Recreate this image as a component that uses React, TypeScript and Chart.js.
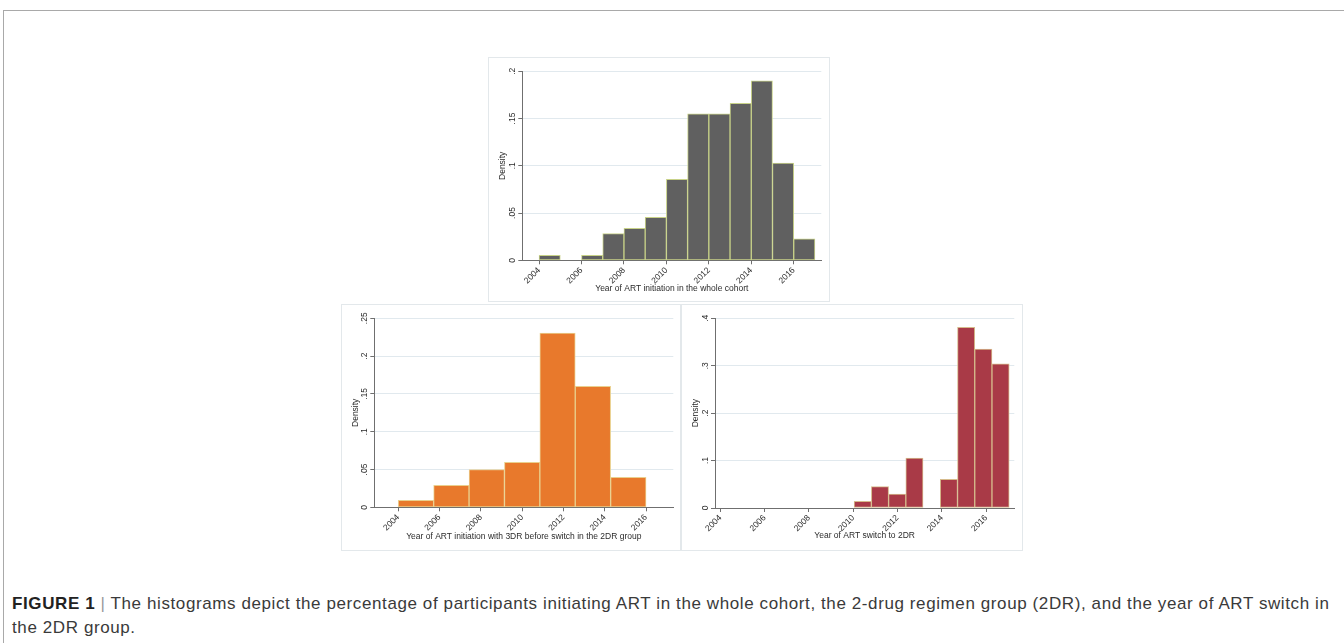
import React, { useEffect, useRef } from "react";
import { Chart, registerables } from "chart.js";

Chart.register(...registerables);

const FONT = "'Liberation Sans', Arial, Helvetica, sans-serif";
const TEXT = "#2b2b2b";
const AXIS = "#6f6f6f";
const GRID = "#e1e9ee";
const PANEL_BORDER = "#e3e8eb";

// shared x tick years
const xTickYears = [2004, 2006, 2008, 2010, 2012, 2014, 2016];

// Panel 1: whole cohort
const wholeEdges = [2004, 2005, 2006, 2007, 2008, 2009, 2010, 2011, 2012, 2013, 2014, 2015, 2016, 2017];
const wholeDensity = [0.0053, 0, 0.0053, 0.0282, 0.0339, 0.0455, 0.0857, 0.1549, 0.1549, 0.166, 0.1898, 0.103, 0.0226];
const wholeYTicks = [0, 0.05, 0.1, 0.15, 0.2];
const wholeYLabels = ["0", ".05", ".1", ".15", ".2"];
const wholeXRange = [2003.21, 2017.3];

// Panel 2: 3DR initiation before switch in 2DR group
const initEdges = [2004, 2005.714, 2007.429, 2009.143, 2010.857, 2012.571, 2014.286, 2016];
const initDensity = [0.0093, 0.0291, 0.0498, 0.0595, 0.2306, 0.16, 0.0397];
const initYTicks = [0, 0.05, 0.1, 0.15, 0.2, 0.25];
const initYLabels = ["0", ".05", ".1", ".15", ".2", ".25"];
const initXRange = [2002.84, 2017.32];

// Panel 3: year of switch to 2DR
const switchEdges = [2010.04, 2010.818, 2011.596, 2012.373, 2013.151, 2013.929, 2014.707, 2015.484, 2016.262, 2017.04];
const switchDensity = [0.014, 0.045, 0.0295, 0.105, 0, 0.0605, 0.381, 0.335, 0.304];
const switchYTicks = [0, 0.1, 0.2, 0.3, 0.4];
const switchYLabels = ["0", ".1", ".2", ".3", ".4"];
const switchXRange = [2003.76, 2017.27];

type Box = {
  left: number; top: number; width: number; height: number;
  yWidth: number; padTop: number; padRight: number; xHeight: number; titlePad: number;
};

type HistProps = {
  edges: number[]; density: number[]; yTicks: number[]; yLabels: string[]; xRange: number[];
  fill: string; stroke: string; xTitle: string; box: Box;
};

const TICK_FONT = { family: FONT, size: 8.5 };

function Histogram(props: HistProps) {
  const ref = useRef<HTMLCanvasElement>(null);
  const { box } = props;
  useEffect(() => {
    const { edges, density, yTicks, yLabels, xRange, fill, stroke, xTitle } = props;
    const data = density.map((d, i) => ({ x: (edges[i] + edges[i + 1]) / 2, y: d > 0 ? d : null }));
    const yLabelPlugin = {
      id: "yRotLabels",
      afterDraw(chart: any) {
        const ctx = chart.ctx;
        const ys = chart.scales.y;
        ctx.save();
        ctx.fillStyle = TEXT;
        ctx.font = `8.5px ${FONT}`;
        ctx.textAlign = "center";
        ctx.textBaseline = "middle";
        yTicks.forEach((v, i) => {
          const py = ys.getPixelForValue(v);
          ctx.save();
          ctx.translate(ys.right - 9.5, py);
          ctx.rotate(-Math.PI / 2);
          ctx.fillText(yLabels[i], 0, 0);
          ctx.restore();
        });
        ctx.restore();
      },
    };
    const chart = new Chart(ref.current as HTMLCanvasElement, {
      type: "bar",
      data: {
        datasets: [
          {
            data: data as any,
            backgroundColor: fill,
            borderColor: stroke,
            borderWidth: 1,
            borderSkipped: false,
            barPercentage: 1,
            categoryPercentage: 1,
          },
        ],
      },
      options: {
        animation: false,
        responsive: false,
        devicePixelRatio: 1,
        layout: {
          autoPadding: false,
          padding: { top: box.padTop, right: box.padRight, left: 0, bottom: 0 },
        } as any,
        plugins: { legend: { display: false }, tooltip: { enabled: false } },
        scales: {
          x: {
            type: "linear",
            offset: false,
            min: xRange[0],
            max: xRange[1],
            afterBuildTicks: (s: any) => {
              s.ticks = xTickYears.map((v) => ({ value: v }));
            },
            afterFit: (s: any) => {
              s.height = box.xHeight;
            },
            grid: {
              display: true,
              drawOnChartArea: false,
              drawTicks: true,
              tickLength: 4,
              tickColor: AXIS,
              offset: false,
            },
            border: { display: true, color: AXIS, width: 1 },
            ticks: {
              minRotation: 45,
              maxRotation: 45,
              autoSkip: false,
              padding: 1,
              color: TEXT,
              font: TICK_FONT,
              callback: (v: any) => String(v),
            },
            title: {
              display: true,
              text: xTitle,
              color: TEXT,
              font: TICK_FONT,
              padding: { top: 0, bottom: box.titlePad },
            },
          },
          y: {
            type: "linear",
            min: 0,
            max: yTicks[yTicks.length - 1],
            afterBuildTicks: (s: any) => {
              s.ticks = yTicks.map((v) => ({ value: v }));
            },
            afterFit: (s: any) => {
              s.width = box.yWidth;
            },
            grid: {
              color: (c: any) => (c.tick && c.tick.value === 0 ? "rgba(0,0,0,0)" : GRID),
              tickColor: AXIS,
              tickLength: 4,
              drawTicks: true,
            },
            border: { display: true, color: AXIS, width: 1 },
            ticks: { display: false },
            title: {
              display: true,
              text: "Density",
              color: TEXT,
              font: TICK_FONT,
              padding: { top: 10, bottom: 0 },
            },
          },
        },
      } as any,
      plugins: [yLabelPlugin],
    });
    return () => chart.destroy();
  }, []);
  return (
    <>
      <canvas
        ref={ref}
        width={box.width}
        height={box.height}
        style={{ position: "absolute", left: box.left, top: box.top, width: box.width, height: box.height, background: "#fff" }}
      />
      <div
        style={{
          position: "absolute",
          left: box.left,
          top: box.top,
          width: box.width,
          height: box.height,
          border: `1px solid ${PANEL_BORDER}`,
          boxSizing: "border-box",
          pointerEvents: "none",
        }}
      />
    </>
  );
}

export default function App() {
  return (
    <div
      style={{
        position: "fixed",
        left: 0,
        top: 0,
        width: 1344,
        height: 643,
        overflow: "hidden",
        background: "#ffffff",
        fontFamily: FONT,
      }}
    >
      <div
        style={{
          position: "absolute",
          left: 3,
          top: 10,
          width: 1400,
          height: 700,
          borderLeft: "1px solid #a9a9a9",
          borderTop: "1px solid #a9a9a9",
        }}
      />
      <Histogram
        edges={wholeEdges}
        density={wholeDensity}
        yTicks={wholeYTicks}
        yLabels={wholeYLabels}
        xRange={wholeXRange}
        fill="#606060"
        stroke="#c8d288"
        xTitle="Year of ART initiation in the whole cohort"
        box={{ left: 488, top: 57, width: 342, height: 245, yWidth: 34.3, padTop: 14.3, padRight: 8.7, xHeight: 41.7, titlePad: 8 }}
      />
      <Histogram
        edges={initEdges}
        density={initDensity}
        yTicks={initYTicks}
        yLabels={initYLabels}
        xRange={initXRange}
        fill="#e8792c"
        stroke="#ead08e"
        xTitle="Year of ART initiation with 3DR before switch in the 2DR group"
        box={{ left: 341, top: 304, width: 340, height: 247, yWidth: 33.3, padTop: 14.3, padRight: 7.7, xHeight: 43.7, titlePad: 9.6 }}
      />
      <Histogram
        edges={switchEdges}
        density={switchDensity}
        yTicks={switchYTicks}
        yLabels={switchYLabels}
        xRange={switchXRange}
        fill="#a93a47"
        stroke="#d6bb8c"
        xTitle="Year of ART switch to 2DR"
        box={{ left: 681, top: 304, width: 342, height: 247, yWidth: 34, padTop: 14.3, padRight: 8.7, xHeight: 43, titlePad: 10.6 }}
      />
      <div
        style={{
          position: "absolute",
          left: 12,
          top: 592,
          fontSize: 17,
          letterSpacing: "0.6px",
          lineHeight: "24px",
          color: "#3a3a3a",
          whiteSpace: "nowrap",
        }}
      >
        <span style={{ fontWeight: "bold", color: "#222" }}>FIGURE 1</span>
        <span style={{ color: "#999" }}> | </span>
        The histograms depict the percentage of participants initiating ART in the whole cohort, the 2-drug regimen group (2DR), and the year of ART switch in
        <br />
        the 2DR group.
      </div>
    </div>
  );
}
